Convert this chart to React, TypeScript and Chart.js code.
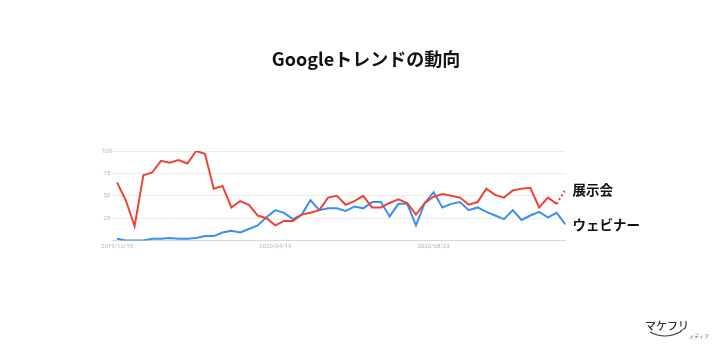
import { useEffect, useRef } from 'react';
import { Chart, registerables } from 'chart.js';

Chart.register(...registerables);

// Weekly Google Trends interest (0–100), 2019/12/15 – 2020/12/06
const exhibitionValues = [
  65, 45, 16, 73, 76, 89, 87, 90, 86, 100,
  97, 58, 61, 37, 44, 40, 28, 25, 17, 22,
  22, 29, 31, 34, 48, 50, 40, 44, 50, 37,
  37, 42, 46, 42, 29, 42, 49, 52, 50, 48,
  40, 43, 58, 51, 48, 56, 58, 59, 37, 48,
  41, 57,
];
const webinarValues = [
  2, 0, 0, 0, 2, 2, 3, 2, 2, 3,
  5, 5, 9, 11, 9, 13, 17, 26, 34, 31,
  24, 29, 45, 34, 36, 36, 33, 38, 36, 43,
  43, 27, 41, 41, 17, 42, 54, 37, 41, 43,
  34, 37, 32, 28, 24, 34, 23, 28, 32, 26,
  31, 18,
];
const seriesNames = ['展示会', 'ウェビナー'];
const tickWeeks = [0, 18, 36];
const tickLabels = ['2019/12/15', '2020/04/19', '2020/08/23'];
const yTickValues = [25, 50, 75, 100];
const titleText = 'Googleトレンドの動向';

const RED = '#e8443a';
const BLUE = '#3d8fe8';
const JP_FONT = "'Noto Sans CJK JP', 'Noto Sans', sans-serif";

// Title centred on the whole figure, above the plot
const figureTitle = {
  id: 'figureTitle',
  afterDraw(chart: any) {
    const { ctx } = chart;
    ctx.save();
    ctx.font = `bold 18px ${JP_FONT}`;
    ctx.fillStyle = '#111';
    ctx.textAlign = 'center';
    ctx.textBaseline = 'middle';
    ctx.fillText(titleText, 366, 59);
    ctx.restore();
  },
};

// Series names placed beside each line's final point
const endLabels = {
  id: 'endLabels',
  afterDatasetsDraw(chart: any) {
    const { ctx, chartArea } = chart;
    ctx.save();
    ctx.font = `bold 13.5px ${JP_FONT}`;
    ctx.fillStyle = '#111';
    ctx.textBaseline = 'middle';
    ctx.textAlign = 'left';
    chart.data.datasets.forEach((_: any, i: number) => {
      const pts = chart.getDatasetMeta(i).data;
      const last = pts[pts.length - 1];
      ctx.fillText(seriesNames[i], chartArea.right + 7, last.y);
    });
    ctx.restore();
  },
};

const brandMark = {
  id: 'brandMark',
  afterDraw(chart: any) {
    const { ctx } = chart;
    ctx.save();
    ctx.fillStyle = '#333';
    ctx.textBaseline = 'alphabetic';
    ctx.textAlign = 'left';
    ctx.font = `500 11px ${JP_FONT}`;
    ctx.fillText('マケフリ', 645, 330);
    ctx.strokeStyle = '#333';
    ctx.lineWidth = 1.2;
    ctx.beginPath();
    ctx.moveTo(650, 332);
    ctx.quadraticCurveTo(665, 340, 680, 332);
    ctx.lineTo(682, 330);
    ctx.stroke();
    ctx.fillStyle = '#666';
    ctx.font = `5px ${JP_FONT}`;
    ctx.fillText('メディア', 689, 338);
    ctx.restore();
  },
};

export default function App() {
  const canvasRef = useRef<HTMLCanvasElement | null>(null);

  useEffect(() => {
    if (!canvasRef.current) return;
    const lastIndex = exhibitionValues.length - 1;
    const chart = new Chart(canvasRef.current, {
      type: 'line',
      data: {
        datasets: [
          {
            label: seriesNames[0],
            data: exhibitionValues.map((v, i) => ({ x: i, y: v })),
            borderColor: RED,
            backgroundColor: RED,
            borderWidth: 2,
            pointRadius: 0,
            tension: 0,
            segment: {
              borderDash: (c: any) => (c.p1DataIndex === lastIndex ? [2, 2.5] : undefined),
            },
          },
          {
            label: seriesNames[1],
            data: webinarValues.map((v, i) => ({ x: i, y: v })),
            borderColor: BLUE,
            backgroundColor: BLUE,
            borderWidth: 2,
            pointRadius: 0,
            tension: 0,
          },
        ],
      },
      options: {
        animation: false,
        responsive: false,
        devicePixelRatio: 1,
        layout: { padding: { left: 100, right: 154.5, top: 151, bottom: 97.4 } },
        plugins: {
          legend: { display: false },
          tooltip: { enabled: false },
          title: { display: false },
        },
        scales: {
          x: {
            type: 'linear',
            min: -0.57,
            max: lastIndex,
            afterBuildTicks: (scale: any) => {
              scale.ticks = tickWeeks.map((v) => ({ value: v }));
            },
            afterFit: (scale: any) => {
              scale.height = 10;
            },
            ticks: {
              autoSkip: false,
              maxRotation: 0,
              padding: 2,
              color: '#b5b5b5',
              font: { family: "'Roboto', sans-serif", size: 6 },
              callback: (v: any) => {
                const k = tickWeeks.indexOf(Number(v));
                return k >= 0 ? tickLabels[k] : '';
              },
            },
            grid: { display: false, drawTicks: false },
            border: { display: true, color: '#d6d6d6', width: 1 },
          },
          y: {
            min: 0,
            max: 100,
            afterBuildTicks: (scale: any) => {
              scale.ticks = yTickValues.map((v) => ({ value: v }));
            },
            afterFit: (scale: any) => {
              scale.width = 12;
            },
            ticks: {
              padding: 0,
              crossAlign: 'center',
              color: '#b5b5b5',
              font: { family: "'Roboto', sans-serif", size: 6 },
            },
            grid: { color: '#ececec', drawTicks: false },
            border: { display: false },
          },
        },
      },
      plugins: [figureTitle, endLabels, brandMark],
    } as any);
    return () => chart.destroy();
  }, []);

  return (
    <div style={{ position: 'absolute', left: 0, top: 0, width: 720, height: 348, background: '#fff' }}>
      <canvas ref={canvasRef} width={720} height={348} style={{ display: 'block' }} />
    </div>
  );
}
